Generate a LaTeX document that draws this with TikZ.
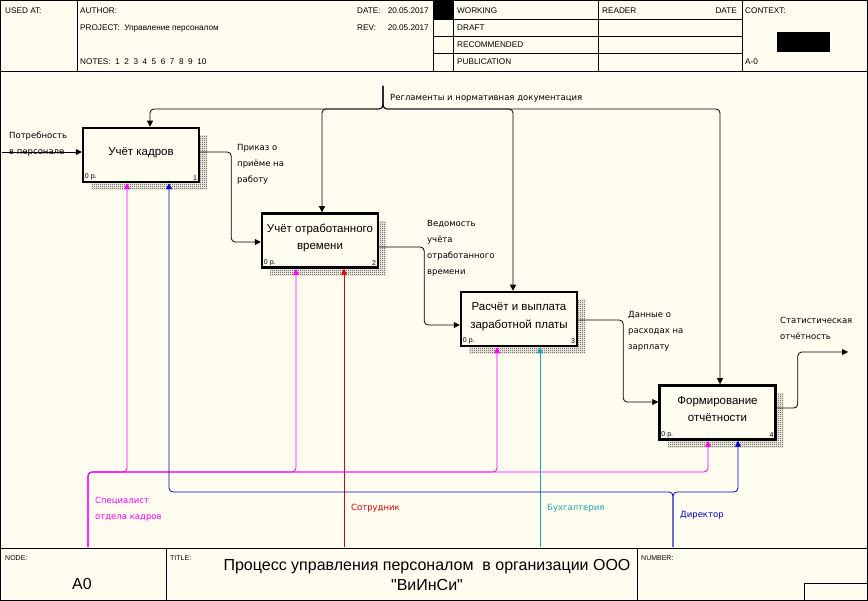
\documentclass[tikz,border=0pt]{standalone}
\usepackage{fontspec}
\setmainfont{Liberation Sans}
\newfontfamily\dvfam{DejaVu Sans}
\newfontfamily\titlefam{Liberation Sans}
\usetikzlibrary{arrows.meta, patterns}

\definecolor{paper}{RGB}{255,252,240}
\definecolor{hrmag}{RGB}{255,0,255}
\definecolor{dirblue}{RGB}{0,0,205}
\definecolor{empred}{RGB}{220,0,0}
\definecolor{accteal}{RGB}{30,165,180}

\pgfdeclarepatternformonly{fine checker}{\pgfpointorigin}{\pgfpoint{2pt}{2pt}}{\pgfpoint{2pt}{2pt}}{%
  \pgfpathrectangle{\pgfpointorigin}{\pgfpoint{1pt}{1pt}}%
  \pgfpathrectangle{\pgfpoint{1pt}{1pt}}{\pgfpoint{1pt}{1pt}}%
  \pgfusepath{fill}}

\newcommand{\hdrfont}{\fontsize{8.2}{9}\selectfont}
\newcommand{\lblfont}{\dvfam\fontsize{8.5}{16}\selectfont}
\newcommand{\boxfont}{\fontsize{11.5}{17.5}\selectfont}
\newcommand{\cornerfont}{\fontsize{7}{8}\selectfont}
\newcommand{\titlefont}{\titlefam\fontsize{16}{20}\selectfont}

\begin{document}
\begin{tikzpicture}[
    x=1pt, y=-1pt,
    every node/.style={inner sep=0pt},
    hdr/.style={anchor=west, font=\hdrfont},
    lbl/.style={anchor=north west, align=left, font=\lblfont},
    func/.style={draw, line width=2.5pt, fill=paper, minimum width=116pt, minimum height=54pt,
        align=center, font=\boxfont, text depth=7pt,
        preaction={pattern=fine checker, pattern color=black!80,
            transform canvas={shift={(8pt,-8pt)}}}},
    corner/.style={font=\cornerfont, inner sep=3pt},
    flow/.style={draw, line width=0.8pt, rounded corners=4pt, -{Triangle[length=6pt, width=6pt]}},
]
\useasboundingbox (0,0) rectangle (868,601);
\fill[paper] (0,0) rectangle (868,601);

% frame, header and footer
\draw[line width=1.2pt] (0.6,0.6) rectangle (867.4,600.4);
\draw[line width=0.8pt] (0,71) -- (868,71);
\draw[line width=0.8pt] (77,0) -- (77,71);
\draw[line width=0.8pt] (433,0) -- (433,71);
\draw[line width=0.8pt] (453,0) -- (453,71);
\draw[line width=0.8pt] (598,0) -- (598,71);
\draw[line width=0.8pt] (742,0) -- (742,71);
\draw[line width=0.8pt] (433,19.5) -- (742,19.5);
\draw[line width=0.8pt] (433,36.5) -- (742,36.5);
\draw[line width=0.8pt] (433,53.5) -- (742,53.5);
\fill (433,0) rectangle (453,19.5);
\fill (777,32) rectangle (830,52);
\draw[line width=0.8pt] (0,548) -- (868,548);
\draw[line width=0.8pt] (166,548) -- (166,601);
\draw[line width=0.8pt] (637,548) -- (637,601);
\draw[line width=0.8pt] (804,583) rectangle (867.4,600.4);

\node[hdr] (usedat) at (5,11) {USED AT:};
\node[hdr] (author) at (80,11) {AUTHOR:};
\node[hdr] (project) at (80,28) {PROJECT:\ \ Управление персоналом};
\node[hdr] (notes) at (80,62) {NOTES:\ \ 1\ \ 2\ \ 3\ \ 4\ \ 5\ \ 6\ \ 7\ \ 8\ \ 9\ \ 10};
\node[hdr] (date) at (357,11) {DATE:};
\node[hdr, anchor=east] (dateval) at (429,11) {20.05.2017};
\node[hdr] (rev) at (357,28) {REV:};
\node[hdr, anchor=east] (revval) at (429,28) {20.05.2017};
\node[hdr] (working) at (457,11) {WORKING};
\node[hdr] (draft) at (457,28) {DRAFT};
\node[hdr] (recommended) at (457,45) {RECOMMENDED};
\node[hdr] (publication) at (457,62) {PUBLICATION};
\node[hdr] (reader) at (602,11) {READER};
\node[hdr, anchor=east] (rdate) at (737,11) {DATE};
\node[hdr] (context) at (745,11) {CONTEXT:};
\node[hdr] (ctxnode) at (745,62) {A-0};

\node[hdr, font=\cornerfont] (nodelbl) at (5,558) {NODE:};
\node[hdr, font=\titlefont] (nodeval) at (72,584) {A0};
\node[hdr, font=\cornerfont] (titlelbl) at (170,558) {TITLE:};
\node[font=\titlefont, align=center] (title) at (427,575) {Процесс управления персоналом~ в организации ООО\\"ВиИнСи"};
\node[hdr, font=\cornerfont] (numberlbl) at (641,558) {NUMBER:};

% functions
\node[func, label={[corner, anchor=south west]south west:0 р.}, label={[corner, anchor=south east]south east:1}] (b1) at (141,155) {Учёт кадров};
\node[func, label={[corner, anchor=south west]south west:0 р.}, label={[corner, anchor=south east]south east:2}] (b2) at (320,240.5) {Учёт отработанного\\времени};
\node[func, label={[corner, anchor=south west]south west:0 р.}, label={[corner, anchor=south east]south east:3}] (b3) at (519,319) {Расчёт и выплата\\заработной платы};
\node[func, label={[corner, anchor=south west]south west:0 р.}, label={[corner, anchor=south east]south east:4}] (b4) at (717.5,412.5) {Формирование\\отчётности};

% boundary points
\coordinate (in1) at (2,152);
\coordinate (ctl) at (383,86);
\coordinate (cbus) at (383,109);
\coordinate (out4) at (848,352);
\coordinate (hrs) at (88,547);
\coordinate (hrbus) at (88,472);
\coordinate (emp) at (344,547);
\coordinate (acc) at (540,547);
\coordinate (dir) at (673,547);
\coordinate (dirbus) at (673,492);

% inputs and outputs
\draw[flow] (in1) -- (in1 -| b1.west);
\draw[flow] ([yshift=3pt]b1.east) -- ++(31,0) |- ([yshift=-1.5pt]b2.west);
\draw[flow] ([yshift=-6.5pt]b2.east) -- ++(45,0) |- ([yshift=-6pt]b3.west);
\draw[flow] ([yshift=-1pt]b3.east) -- ++(45,0) |- ([yshift=10.5pt]b4.west);
\draw[flow] ([yshift=4.5pt]b4.east) -- ++(21,0) |- (out4);

% controls
\draw[flow] (ctl) -- (cbus) -| ([xshift=9pt]b1.north);
\draw[flow] (ctl) -- (cbus) -| ([xshift=2pt]b2.north);
\draw[flow] (ctl) -- (cbus) -| ([xshift=-6pt]b3.north);
\draw[flow] (ctl) -- (cbus) -| ([xshift=2.5pt]b4.north);

% mechanisms
\draw[flow, hrmag] (hrs) -- (hrbus) -| ([xshift=-14pt]b1.south);
\draw[flow, hrmag] (hrs) -- (hrbus) -| ([xshift=-24pt]b2.south);
\draw[flow, hrmag] (hrs) -- (hrbus) -| ([xshift=-22pt]b3.south);
\draw[flow, hrmag] (hrs) -- (hrbus) -| ([xshift=-9.5pt]b4.south);
\draw[flow, empred] (emp) -- (emp |- b2.south);
\draw[flow, accteal] (acc) -- (acc |- b3.south);
\draw[flow, dirblue] (dir) -- (dirbus) -| ([xshift=28pt]b1.south);
\draw[flow, dirblue] (dir) -- (dirbus) -| ([xshift=20.5pt]b4.south);

% arrow labels
\node[lbl] (needlbl) at (9,132) {Потребность\\в персонале};
\node[lbl] (orderlbl) at (237,144) {Приказ о\\приёме на\\работу};
\node[lbl] (sheetlbl) at (427,220) {Ведомость\\учёта\\отработанного\\времени};
\node[lbl] (paylbl) at (628,311) {Данные о\\расходах на\\зарплату};
\node[lbl] (statlbl) at (780,317) {Статистическая\\отчётность};
\node[lbl] (ruleslbl) at (390,94) {Регламенты и нормативная документация};
\node[lbl, text=hrmag] (hrlbl) at (95,497) {Специалист\\отдела кадров};
\node[lbl, text=empred] (emplbl) at (351,504) {Сотрудник};
\node[lbl, text=accteal] (acclbl) at (547,504) {Бухгалтерия};
\node[lbl, text=dirblue] (dirlbl) at (680,511) {Директор};
\end{tikzpicture}
\end{document}
